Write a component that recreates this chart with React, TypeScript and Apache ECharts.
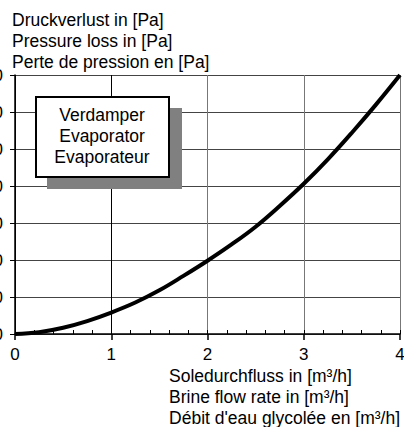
import React, { useEffect, useRef } from "react";
import * as echarts from "echarts";

const flowRate = [0, 0.25, 0.5, 0.75, 1, 1.25, 1.5, 1.75, 2, 2.25, 2.5, 2.75, 3, 3.25, 3.5, 3.75, 4];
const pressureLoss = [0, 250, 850, 1750, 2900, 4250, 5900, 7850, 9900, 12100, 14500, 17300, 20300, 23600, 27200, 31000, 35000];
const xTicks = [0, 1, 2, 3, 4];
const yTicks = [0, 5000, 10000, 15000, 20000, 25000, 30000, 35000];
const yTitleLines = ["Druckverlust in [Pa]", "Pressure loss in [Pa]", "Perte de pression en [Pa]"];
const xTitleLines = ["Soledurchfluss in [m³/h]", "Brine flow rate in [m³/h]", "Débit d'eau glycolée en [m³/h]"];
const boxLines = ["Verdamper", "Evaporator", "Evaporateur"];

const FONT = "'Liberation Sans', Arial, sans-serif";

export default function App() {
  const ref = useRef<HTMLDivElement>(null);
  useEffect(() => {
    if (!ref.current) return;
    const chart = echarts.init(ref.current, undefined, { renderer: "svg" });
    const option: any = {
      animation: false,
      backgroundColor: "#fff",
      grid: { left: 15, right: 4, top: 75, bottom: 93, containLabel: false, outerBoundsMode: "none" },
      xAxis: [
        {
          type: "value",
          position: "bottom",
          min: xTicks[0],
          max: xTicks[xTicks.length - 1],
          interval: 1,
          axisLine: { show: true, lineStyle: { color: "#000", width: 1.5 } },
          axisTick: { show: true, inside: false, length: 6, lineStyle: { color: "#000", width: 1.5 } },
          axisLabel: { show: true, margin: 12, fontSize: 17, color: "#000", fontFamily: FONT },
          splitLine: { show: true, lineStyle: { color: ["#000", "#000", "#777", "#777", "#777"], width: 1 } },
        },
        {
          type: "value",
          position: "bottom",
          min: 0,
          max: 4,
          interval: 0.2,
          axisLine: { show: false },
          axisTick: { show: true, inside: true, length: 4, lineStyle: { color: "#000", width: 1 } },
          axisLabel: { show: false },
          splitLine: { show: false },
        },
      ],
      yAxis: {
        type: "value",
        min: yTicks[0],
        max: yTicks[yTicks.length - 1],
        interval: 5000,
        axisLine: { show: true, lineStyle: { color: "#000", width: 1.5 } },
        axisTick: { show: true, inside: false, length: 5, lineStyle: { color: "#000", width: 1 } },
        axisLabel: {
          show: true,
          margin: 12,
          fontSize: 17,
          color: "#000",
          fontFamily: FONT,
          formatter: (v: number) => String(v),
        },
        splitLine: { show: true, lineStyle: { color: "#444", width: 1 } },
      },
      series: [
        {
          type: "line",
          xAxisIndex: 0,
          data: flowRate.map((x, i) => [x, pressureLoss[i]]),
          smooth: 0.4,
          showSymbol: false,
          lineStyle: { color: "#000", width: 4 },
          z: 5,
        },
      ],
      graphic: [
        {
          type: "text",
          left: 12,
          top: 9,
          z: 10,
          style: { text: yTitleLines.join("\n"), font: `17.5px ${FONT}`, fill: "#000", lineHeight: 21 },
        },
        {
          type: "text",
          right: 4,
          top: 365,
          z: 10,
          style: { text: xTitleLines.join("\n"), font: `17.5px ${FONT}`, fill: "#000", lineHeight: 21, align: "right" },
        },
        {
          type: "rect",
          z: 10,
          shape: { x: 47, y: 108, width: 135, height: 81 },
          style: { fill: "#808080" },
        },
        {
          type: "rect",
          z: 11,
          shape: { x: 36, y: 97, width: 133, height: 80 },
          style: { fill: "#fff", stroke: "#000", lineWidth: 2 },
        },
        {
          type: "text",
          z: 12,
          x: 102,
          y: 136,
          style: {
            text: boxLines.join("\n"),
            font: `17.5px ${FONT}`,
            fill: "#000",
            lineHeight: 21,
            align: "center",
            verticalAlign: "middle",
          },
        },
      ],
    };
    chart.setOption(option);
    return () => chart.dispose();
  }, []);
  return <div ref={ref} style={{ position: "absolute", left: 0, top: 0, width: 404, height: 427 }} />;
}
